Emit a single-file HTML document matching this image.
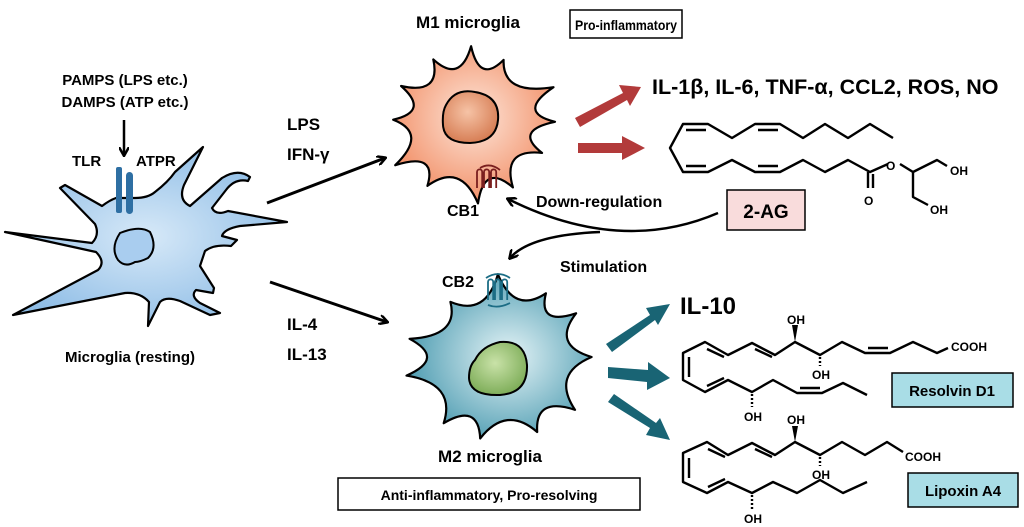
<!DOCTYPE html>
<html><head><meta charset="utf-8"><style>
body{margin:0;background:#fff}
svg{display:block}
text{font-family:"Liberation Sans",sans-serif;font-weight:bold;fill:#000}
.c{fill:none;stroke:#000;stroke-width:2.4;stroke-linejoin:round}
</style></head><body>
<svg id="s" width="1024" height="527" viewBox="0 0 1024 527">
<defs>
<radialGradient id="gm1" cx="50%" cy="45%" r="55%"><stop offset="0" stop-color="#fde6da"/><stop offset="1" stop-color="#f29068"/></radialGradient>
<radialGradient id="gn1" cx="45%" cy="40%" r="60%"><stop offset="0" stop-color="#f6c3a6"/><stop offset="1" stop-color="#d77e55"/></radialGradient>
<radialGradient id="gm2" cx="55%" cy="50%" r="55%"><stop offset="0" stop-color="#e6f4f7"/><stop offset="1" stop-color="#4f9db2"/></radialGradient>
<radialGradient id="gn2" cx="45%" cy="40%" r="60%"><stop offset="0" stop-color="#c9e2a8"/><stop offset="1" stop-color="#7fae5a"/></radialGradient>
<radialGradient id="gr" cx="50%" cy="50%" r="55%"><stop offset="0" stop-color="#d7e9f8"/><stop offset="1" stop-color="#8fbde6"/></radialGradient>
<marker id="ab" markerWidth="10" markerHeight="10" refX="8" refY="5" orient="auto" markerUnits="userSpaceOnUse"><path d="M0,0 L9,5 L0,10" fill="none" stroke="#000" stroke-width="2.5"/></marker>
</defs>

<path d="M5,232 L92,243 Q100,235 95,224 L60,188 L65,185 L102,206 Q110,200 116,198 L135,198 Q148,198 155,192 Q168,182 175,172 L203,147 L184,185 Q178,200 190,206 L222,178 Q238,168 250,177 L248,181 Q235,178 226,190 L212,208 Q216,216 228,211 L287,222 L240,226 Q224,229 222,236 L237,240 L231,246 Q214,244 205,251 L200,266 L214,288 L213,293 L196,290 Q190,296 200,303 L220,313 L210,315 L180,301 Q166,296 160,302 L148,326 L149,302 Q140,292 125,293 L13,315 L98,270 Q106,262 96,252 Z" fill="url(#gr)" stroke="#000" stroke-width="2.2" stroke-linejoin="round"/>
<path d="M120,233 Q140,225 150,232 Q158,248 148,258 Q140,262 135,262 Q125,268 118,260 Q110,248 120,233Z" fill="#a9cdef" stroke="#000" stroke-width="2"/>
<rect x="116" y="167" width="6" height="46" rx="2" fill="#2e6fa3"/>
<rect x="126" y="172" width="7" height="42" rx="3.5" fill="#2e6fa3"/>
<line x1="124" y1="120" x2="124" y2="155" stroke="#000" stroke-width="2.5" marker-end="url(#ab)"/>
<text x="125" y="85" font-size="15" text-anchor="middle">PAMPS (LPS etc.)</text>
<text x="125" y="107" font-size="15" text-anchor="middle">DAMPS (ATP etc.)</text>
<text x="72" y="166" font-size="15">TLR</text>
<text x="136" y="166" font-size="15">ATPR</text>
<text x="130" y="362" font-size="15" text-anchor="middle">Microglia (resting)</text>

<line x1="267" y1="203" x2="385" y2="158" stroke="#000" stroke-width="3" marker-end="url(#ab)"/>
<line x1="270" y1="282" x2="387" y2="322" stroke="#000" stroke-width="3" marker-end="url(#ab)"/>
<text x="287" y="130" font-size="17">LPS</text>
<text x="287" y="160" font-size="17">IFN-γ</text>
<text x="287" y="330" font-size="17">IL-4</text>
<text x="287" y="360" font-size="17">IL-13</text>

<path id="m1" fill="url(#gm1)" stroke="#000" stroke-width="2.2" stroke-linejoin="round"/>
<path d="M446,105 Q455,88 475,92 Q500,96 498,120 Q496,142 470,143 Q444,143 443,125 Q442,112 446,105Z" fill="url(#gn1)" stroke="#000" stroke-width="2"/>
<path d="M477,188 v-16 a2.6,2.6 0 0 1 5.2,0 v16 M484,188 v-16 a2.6,2.6 0 0 1 5.2,0 v16 M491,188 v-16 a2.6,2.6 0 0 1 5.2,0 v16 M480,168 q10,-6 20,2" fill="none" stroke="#7a1f1f" stroke-width="1.8"/>
<text x="468" y="28" font-size="17" text-anchor="middle">M1 microglia</text>
<text x="463" y="216" font-size="16" text-anchor="middle">CB1</text>
<rect x="570" y="10" width="112" height="28" fill="#fff" stroke="#000" stroke-width="1.5"/>
<text x="575" y="30" font-size="14" textLength="102" lengthAdjust="spacingAndGlyphs">Pro-inflammatory</text>

<path id="m2" fill="url(#gm2)" stroke="#000" stroke-width="2.2" stroke-linejoin="round"/>
<path d="M475,360 Q482,346 500,342 Q525,340 527,365 Q528,393 500,395 Q470,396 469,378 Q469,366 475,360Z" fill="url(#gn2)" stroke="#000" stroke-width="2"/>
<path d="M488,300 v-18 a2.6,2.6 0 0 1 5.2,0 v18 M495,300 v-18 a2.6,2.6 0 0 1 5.2,0 v18 M502,300 v-18 a2.6,2.6 0 0 1 5.2,0 v18 M486,278 q12,-8 24,0 M488,305 q10,4 22,-2" fill="none" stroke="#1c6d85" stroke-width="1.8"/>
<text x="458" y="287" font-size="16" text-anchor="middle">CB2</text>
<text x="490" y="462" font-size="17" text-anchor="middle">M2 microglia</text>
<rect x="338" y="478" width="302" height="32" fill="#fff" stroke="#000" stroke-width="1.5"/>
<text x="489" y="500" font-size="14" text-anchor="middle">Anti-inflammatory, Pro-resolving</text>

<rect x="727" y="190" width="78" height="40" fill="#f9dcdc" stroke="#000" stroke-width="1.5"/>
<text x="766" y="218" font-size="19" text-anchor="middle">2-AG</text>
<text x="536" y="207" font-size="16">Down-regulation</text>
<text x="560" y="272" font-size="16">Stimulation</text>
<path d="M718,213 Q620,255 508,199" class="c" stroke-width="2.6" marker-end="url(#ab)"/>
<path d="M600,232 Q530,235 510,258" class="c" stroke-width="2.6" marker-end="url(#ab)"/>

<g fill="#b23a3a">
<polygon points="575,118 623,93 619,85 641,87 630,106 627,100 580,127"/>
<polygon points="578,143 622,143 622,136 645,148 622,160 622,153 578,153"/>
</g>
<text x="652" y="94" font-size="21.5">IL-1β, IL-6, TNF-α, CCL2, ROS, NO</text>

<g fill="#196474">
<polygon points="606,344 650,315 646,308 670,304 658,325 655,320 612,352"/>
<polygon points="608,367 648,370 648,362 670,378 647,390 647,382 608,378"/>
<polygon points="608,402 650,428 646,435 670,440 660,418 656,423 614,394"/>
</g>
<text x="680" y="314" font-size="24">IL-10</text>

<g class="c" stroke-width="2.2">
<polyline points="893,138 870,124 848,138 825,124 803,138 780,124 755,124 732,138 708,124 683,124 670,148 683,172 708,172 732,160 755,172 780,172 803,160 825,172 848,160 870,172 888,164"/>
<line x1="686" y1="130" x2="706" y2="130"/><line x1="758" y1="130" x2="778" y2="130"/>
<line x1="686" y1="166" x2="706" y2="166"/><line x1="758" y1="166" x2="778" y2="166"/>
<line x1="868" y1="172" x2="868" y2="188"/><line x1="873" y1="174" x2="873" y2="188"/>
<polyline points="900,164 913,172 937,160 947,166"/>
<polyline points="913,172 913,197 928,205"/>
</g>
<text x="886" y="170" font-size="12">O</text>
<text x="864" y="205" font-size="12">O</text>
<text x="950" y="175" font-size="12">OH</text>
<text x="930" y="214" font-size="12">OH</text>

<g class="c" stroke-width="2.2">
<polyline points="948,348 937,353 913,342 890,353 865,353 842,342 820,355 795,342 775,355 752,343 728,355 705,342 683,353 683,380 705,392 728,380 752,392 773,380 797,393 822,393 843,383 867,395"/>
<line x1="707" y1="349" x2="724" y2="357"/><line x1="755" y1="349" x2="772" y2="357"/><line x1="689" y1="357" x2="689" y2="377"/>
<line x1="707" y1="386" x2="724" y2="378"/><line x1="800" y1="388" x2="820" y2="388"/><line x1="868" y1="348" x2="888" y2="348"/>
<line x1="752" y1="394" x2="752" y2="407" stroke-dasharray="2,2"/>
<line x1="820" y1="357" x2="820" y2="366" stroke-dasharray="2,2"/>
</g>
<polygon points="795,342 792,325 798,325" fill="#000"/>
<text x="787" y="324" font-size="12">OH</text>
<text x="812" y="379" font-size="12">OH</text>
<text x="744" y="421" font-size="12">OH</text>
<text x="951" y="351" font-size="12">COOH</text>
<rect x="892" y="373" width="121" height="34" fill="#a9dde6" stroke="#000" stroke-width="1.5"/>
<text x="952" y="396" font-size="15" text-anchor="middle">Resolvin D1</text>

<g class="c" stroke-width="2.2">
<polyline points="903,452 887,442 865,455 842,442 820,455 795,442 775,455 752,443 728,455 707,442 683,453 683,482 707,493 728,482 752,493 773,482 797,493 820,480 843,493 867,482"/>
<line x1="708" y1="449" x2="725" y2="457"/><line x1="755" y1="449" x2="772" y2="457"/><line x1="689" y1="458" x2="689" y2="478"/>
<line x1="708" y1="487" x2="725" y2="479"/>
<line x1="752" y1="495" x2="752" y2="510" stroke-dasharray="2,2"/>
<line x1="820" y1="457" x2="820" y2="466" stroke-dasharray="2,2"/>
</g>
<polygon points="795,442 792,426 798,426" fill="#000"/>
<text x="787" y="424" font-size="12">OH</text>
<text x="812" y="479" font-size="12">OH</text>
<text x="744" y="523" font-size="12">OH</text>
<text x="905" y="461" font-size="12">COOH</text>
<rect x="908" y="473" width="110" height="34" fill="#a9dde6" stroke="#000" stroke-width="1.5"/>
<text x="963" y="496" font-size="15" text-anchor="middle">Lipoxin A4</text>
</svg>
<script>
function star(id,cx,cy,n,rx,ry,k,seed){
 var s=seed;function rnd(){s=(s*9301+49297)%233280;return s/233280;}
 var d="";var pts=[];
 for(var i=0;i<n;i++){var a=(i+rnd()*0.4-0.2)*2*Math.PI/n;var f=0.9+rnd()*0.2;
  pts.push([cx+rx*f*Math.cos(a),cy+ry*f*Math.sin(a)]);}
 for(var i=0;i<n;i++){var p=pts[i],q=pts[(i+1)%n];
  var mx=(p[0]+q[0])/2,my=(p[1]+q[1])/2;
  var c1=[cx+(mx-cx)*k,cy+(my-cy)*k];
  if(i==0)d+="M"+p[0].toFixed(1)+","+p[1].toFixed(1);
  d+=" Q"+c1[0].toFixed(1)+","+c1[1].toFixed(1)+" "+q[0].toFixed(1)+","+q[1].toFixed(1);}
 document.getElementById(id).setAttribute("d",d+"Z");
}
star("m1",470,122,12,84,76,0.55,7);
star("m2",503,360,11,94,82,0.6,3);
</script>
</body></html>
